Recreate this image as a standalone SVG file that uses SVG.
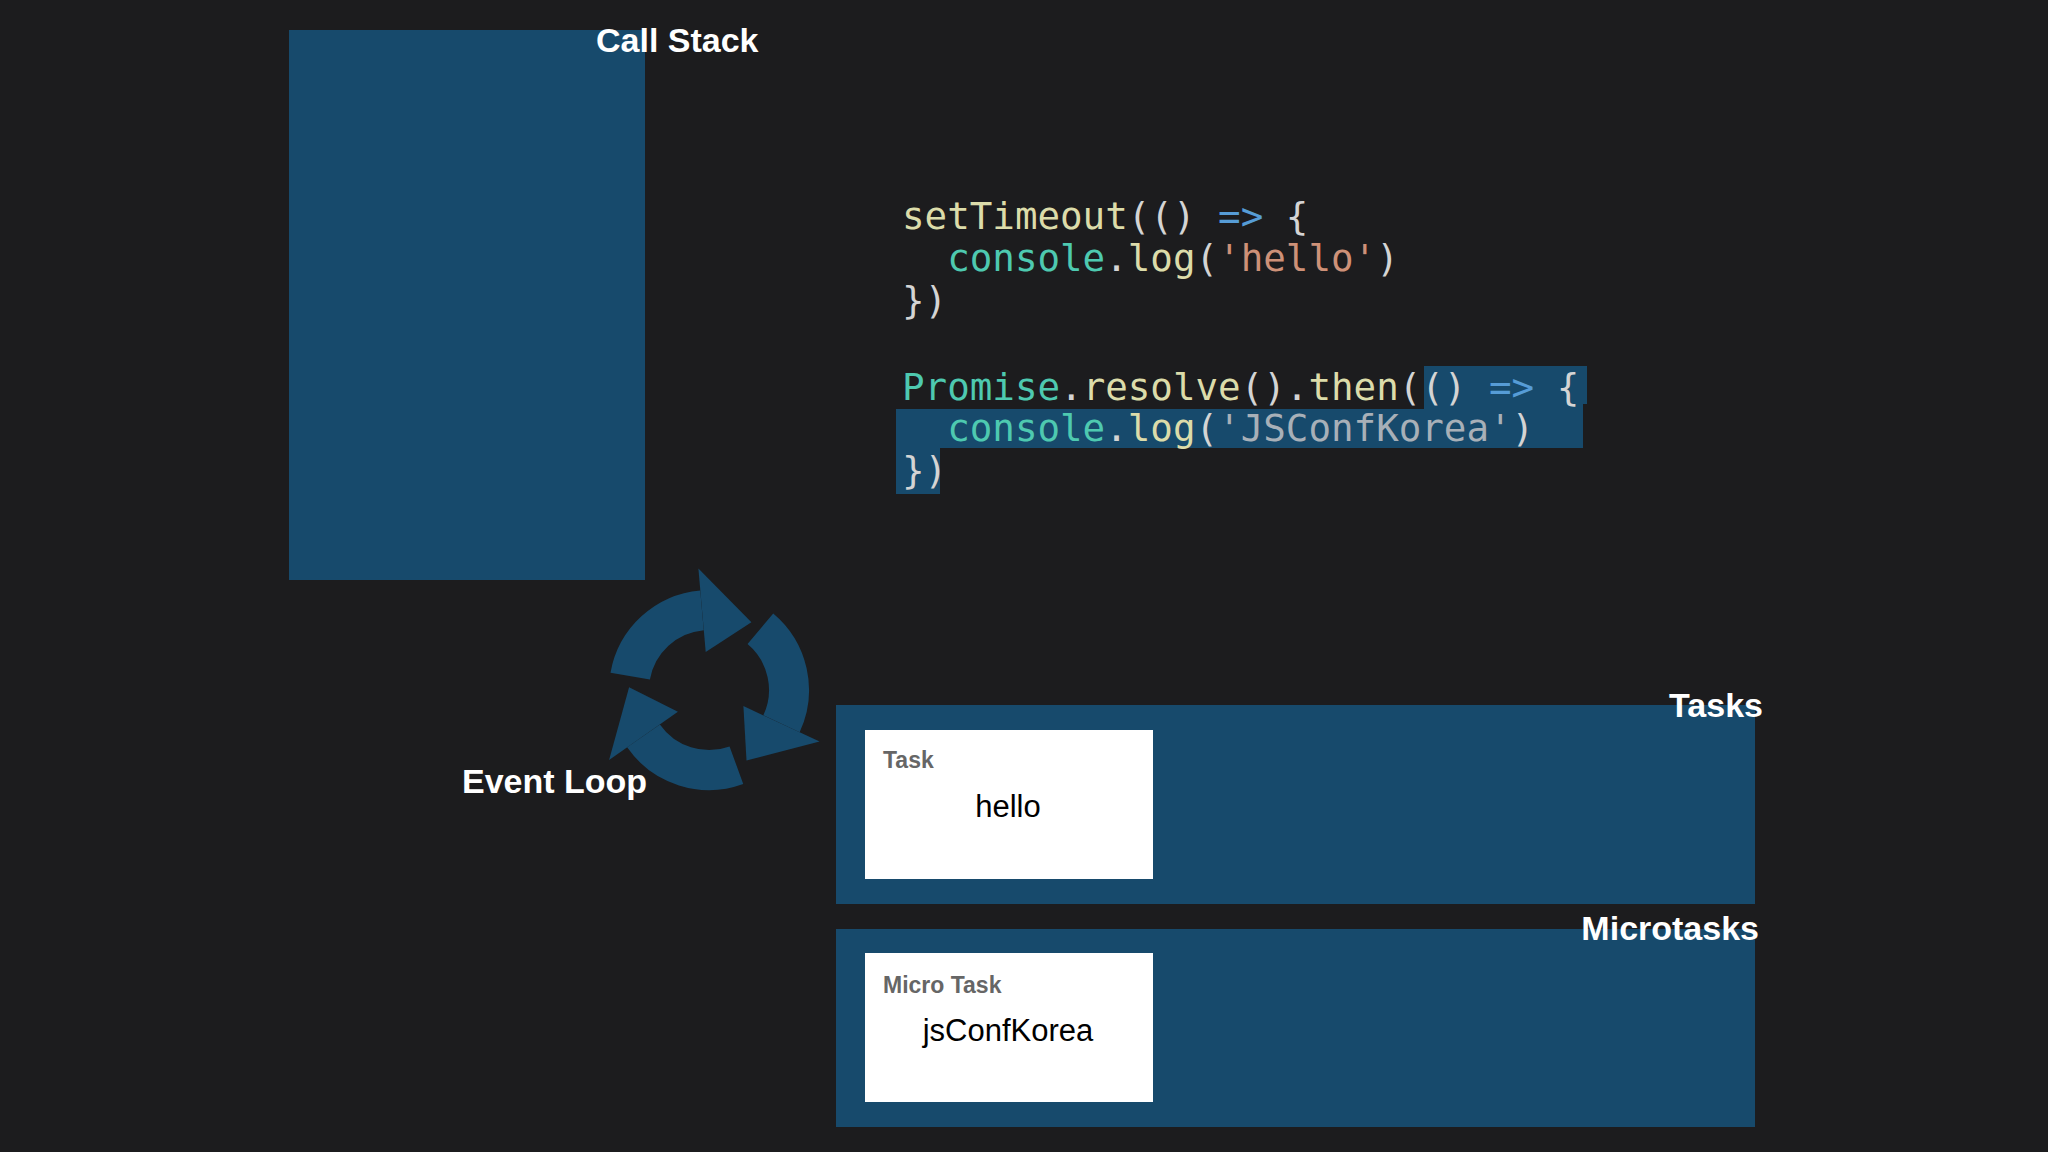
<svg xmlns="http://www.w3.org/2000/svg" width="2048" height="1152" viewBox="0 0 2048 1152">
<style>
.blue{fill:#174a6c}
.title{font-family:"Liberation Sans",Arial,sans-serif;font-weight:bold;font-size:34px;fill:#ffffff}
.code{font-family:"DejaVu Sans Mono",monospace;font-size:37.5px;fill:#d4d4d4}
.y{fill:#dcdcaa}.g{fill:#4ec9b0}.o{fill:#ce9178}.b{fill:#569cd6}.s{fill:#a8b0b8}
.lbl{font-family:"Liberation Sans",Arial,sans-serif;font-weight:bold;font-size:23px;fill:#666666}
.val{font-family:"Liberation Sans",Arial,sans-serif;font-size:31px;fill:#000000;text-anchor:middle}
.arc{fill:none;stroke:#174a6c;stroke-width:40}
</style>
<rect width="2048" height="1152" fill="#1c1c1e"/>
<g id="callstack">
<rect class="blue" x="289" y="30" width="356" height="550"/>
<text class="title" x="596" y="52">Call Stack</text>
</g>
<g id="code">
<polygon class="blue" points="1424,366 1587,366 1587,404 1583,404 1583,448 940,448 940,494 896,494 896,409 1424,409"/>
<text class="code" x="902" y="229"><tspan class="y">setTimeout</tspan>(() <tspan class="b">=&gt;</tspan> {</text>
<text class="code" x="902" y="271" xml:space="preserve">  <tspan class="g">console</tspan>.<tspan class="y">log</tspan>(<tspan class="o">'hello'</tspan>)</text>
<text class="code" x="902" y="313">})</text>
<text class="code" x="902" y="400"><tspan class="g">Promise</tspan>.<tspan class="y">resolve</tspan>().<tspan class="y">then</tspan>(() <tspan class="b">=&gt;</tspan> {</text>
<text class="code" x="902" y="441" xml:space="preserve">  <tspan class="g">console</tspan>.<tspan class="y">log</tspan>(<tspan class="s">'JSConfKorea'</tspan>)</text>
<text class="code" x="902" y="483">})</text>
</g>
<g id="eventloop">
<path class="arc" d="M630.2,676.1 A80 80 0 0 1 702,610.3"/>
<polygon class="blue" points="705.7,652.1 698.4,568.5 751.4,622.2"/>
<path class="arc" d="M760.4,628.7 A80 80 0 0 1 781.5,723.8"/>
<polygon class="blue" points="743.4,706.1 819.6,741.6 746.5,760.6"/>
<path class="arc" d="M736.4,765.2 A80 80 0 0 1 643.5,735.9"/>
<polygon class="blue" points="677.9,711.8 609.1,760 629.1,687.2"/>
<text class="title" x="462" y="793">Event Loop</text>
</g>
<g id="tasks">
<rect class="blue" x="836" y="705" width="919" height="199"/>
<text class="title" x="1763" y="717" text-anchor="end">Tasks</text>
<rect x="865" y="730" width="288" height="149" fill="#ffffff"/>
<text class="lbl" x="883" y="768">Task</text>
<text class="val" x="1008" y="817">hello</text>
</g>
<g id="microtasks">
<rect class="blue" x="836" y="929" width="919" height="198"/>
<text class="title" x="1759" y="940" text-anchor="end">Microtasks</text>
<rect x="865" y="953" width="288" height="149" fill="#ffffff"/>
<text class="lbl" x="883" y="993">Micro Task</text>
<text class="val" x="1008" y="1041">jsConfKorea</text>
</g>
<g id="connectors"/>
</svg>
